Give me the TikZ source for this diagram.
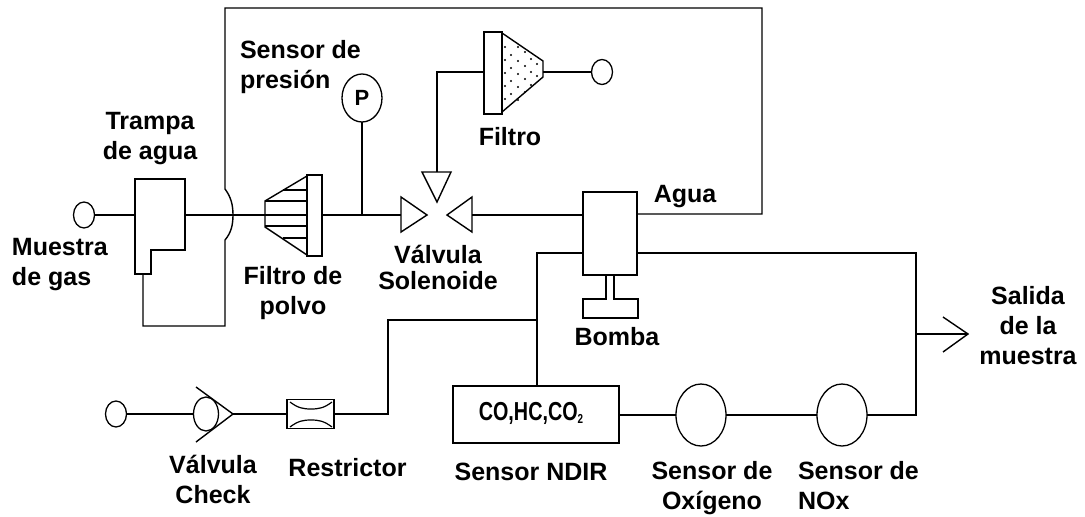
\documentclass[tikz,border=0pt]{standalone}
\usepackage{fontspec}
\setmainfont{Liberation Sans}
\newfontfamily\narrowf[FakeStretch=0.76]{Liberation Sans}
\usetikzlibrary{shapes.geometric}
\tikzset{
  pipe/.style={line width=1.4pt,line join=miter},
  blockbox/.style={draw,rectangle,line width=1.4pt,inner sep=0pt,outer sep=0pt,fill=white},
  round/.style={draw,ellipse,line width=1.3pt,inner sep=0pt,outer sep=0pt},
  lab/.style={inner sep=0pt,outer sep=0pt,align=center,font=\fontsize{25}{30}\selectfont\bfseries},
  lableft/.style={lab,align=left,anchor=west}
}
\begin{document}
\begin{tikzpicture}[x=1pt,y=-1pt]
\useasboundingbox[fill=white] (0,0) rectangle (1085,517);
% inlet and water trap
\node[round,minimum width=21pt,minimum height=26pt] (inlet) at (84,215) {};
\coordinate (trapW) at (135,215);
\coordinate (trapE) at (185,215);
\coordinate (trapS) at (143,274);
\coordinate (dustW) at (265,215);
\draw[pipe] (inlet.east) -- (trapW);
\draw[pipe] (135,179) -- (185,179) -- (185,250) -- (151,250) -- (151,274) -- (135,274) -- cycle;
\draw[pipe] (trapE) -- (dustW);
% dust filter
\draw[pipe] (265,201) -- (307,176) -- (307,255) -- (265,227) -- cycle;
\foreach \y/\x in {190/283,201/265,215/265,226/265,238/283}
  \draw[pipe] (\x,\y) -- (307,\y);
\node[blockbox,minimum width=15pt,minimum height=81pt] (dust) at (314.5,215.5) {};
% return line with bridge
\coordinate (bridgeA) at (225,240);
\coordinate (bridgeB) at (225,189);
\coordinate (topR) at (762,8);
\node[blockbox,minimum width=54pt,minimum height=83pt] (pump) at (610,233.5) {};
\draw[pipe] (trapS) -- (143,326) -- (225,326) -- (bridgeA)
  .. controls (231,233) and (233,225) .. (233,215)
  .. controls (233,205) and (231,197) .. (bridgeB)
  -- (225,8) -- (topR) -- (762,214) -- (637,214);
% pressure sensor
\node[round,minimum width=40pt,minimum height=48pt,font=\fontsize{22}{22}\selectfont\bfseries] (psens) at (362,98) {P};
\coordinate (tee) at (362,215);
\draw[pipe] (psens.south) -- (tee);
% solenoid valve
\draw[pipe] (322,215) -- (401,215);
\draw[pipe] (401,197) -- (427,215) -- (401,232) -- cycle;
\draw[pipe] (472,197) -- (447,215) -- (472,232) -- cycle;
\draw[pipe] (422,172) -- (451,172) -- (437,202) -- cycle;
\draw[pipe] (472,215) -- (583,215);
% filter
\node[blockbox,minimum width=18pt,minimum height=82pt] (filt) at (493,73) {};
\draw[pipe] (437,172) -- (437,72) -- (484,72);
\draw[pipe] (502,33) -- (543,61) -- (543,77) -- (502,112);
\foreach \p in {(505,47),(505,60),(505,73),(505,86),(505,99),(511,55),(511,68),(511,81),(511,94),(518,47),(518,61),(518,74),(518,87),(518,100),(525,52),(525,66),(525,79),(525,92),(531,59),(531,72),(531,85),(537,64),(537,76)}
  \fill \p circle (1.1pt);
\node[round,minimum width=21pt,minimum height=25pt] (vent) at (602,72) {};
\draw[pipe] (543,72) -- (vent.west);
% pump foot
\draw[pipe] (606,275) -- (606,299) -- (583,299) -- (583,318) -- (638,318) -- (638,299) -- (614,299) -- (614,275);
% check valve and restrictor
\node[round,minimum width=21pt,minimum height=26pt] (inlet2) at (116,414) {};
\node[round,minimum width=25pt,minimum height=34pt] (check) at (206,414) {};
\coordinate (checkTip) at (233,414);
\draw[pipe] (inlet2.east) -- (check.west);
\draw[pipe] (196,387) -- (checkTip) -- (196,442);
\node[blockbox,minimum width=47pt,minimum height=29pt] (restr) at (310.5,414) {};
\draw[pipe] (checkTip) -- (restr.west);
\draw[line width=1.2pt] (290,402) .. controls (298,408) and (303,409) .. (311,409) .. controls (319,409) and (324,408) .. (332,402);
\draw[line width=1.2pt] (290,427) .. controls (298,421) and (303,420) .. (311,420) .. controls (319,420) and (324,421) .. (332,427);
% sensors
\node[blockbox,minimum width=166pt,minimum height=57pt] (ndir) at (536,414.5) {};
\node[inner sep=0pt,font=\narrowf\fontsize{26}{26}\selectfont\bfseries] (ndirtxt) at (531,413) {CO,HC,CO\raisebox{-3pt}{\fontsize{13}{13}\selectfont 2}};
\node[round,minimum width=50pt,minimum height=62pt] (oxy) at (701,415) {};
\node[round,minimum width=50pt,minimum height=62pt] (nox) at (842,415) {};
\coordinate (arrTee) at (916,334);
\coordinate (arrTip) at (968,334);
\draw[pipe] (ndir.east |- oxy.west) -- (oxy.west);
\draw[pipe] (oxy.east) -- (nox.west);
\draw[pipe] (nox.east) -- (916,415) -- (916,253) -- (637,253);
\draw[pipe] (arrTee) -- (arrTip);
\draw[pipe] (943,317) -- (arrTip) -- (943,352);
% sample line to NDIR
\draw[pipe] (583,253) -- (537,253) -- (537,386);
\draw[pipe] (restr.east) -- (388,414) -- (388,320) -- (537,320);
% labels
\node[lab] (t1) at (150,138.5) {Trampa\\de agua};
\node[lableft] (t2) at (12,265) {Muestra\\de gas};
\node[lab] (t3) at (293,293) {Filtro de\\polvo};
\node[lableft] (t4) at (240,67) {Sensor de\\presión};
\node[lab] (t5) at (510,137) {Filtro};
\node[lab] (t6) at (438,267) {Válvula\\[-4pt]Solenoide};
\node[lab] (t7) at (685,197) {Agua};
\node[lab] (t8) at (617,337) {Bomba};
\node[lab] (t9) at (213,479) {Válvula\\Check};
\node[lab] (t10) at (347.5,468) {Restrictor};
\node[lab] (t11) at (531,472) {Sensor NDIR};
\node[lab] (t12) at (712,488) {Sensor de\\Oxígeno};
\node[lableft] (t13) at (798,486) {Sensor de\\NOx};
\node[lab] (t14) at (1028,326) {Salida\\de la\\muestra};
\end{tikzpicture}
\end{document}
